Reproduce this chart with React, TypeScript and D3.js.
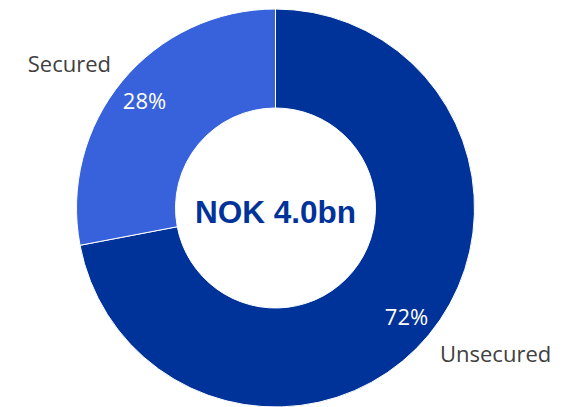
import React from "react";
import * as d3 from "d3";

const categories = ["Unsecured", "Secured"];
const values = [72, 28];
const percentLabels = ["72%", "28%"];
const centerLabel = "NOK 4.0bn";
const colors = ["#003399", "#3862DC"];

const W = 575;
const H = 407;
const cx = 275.5;
const cy = 208;
const outerR = 199;
const innerR = 100;

export default function App() {
  const pie = d3.pie<number>().sort(null).value((d) => d)(values);
  const arc = d3.arc<d3.PieArcDatum<number>>().innerRadius(innerR).outerRadius(outerR);
  const labelArc = d3.arc<d3.PieArcDatum<number>>().innerRadius(170).outerRadius(170);
  // outer category label positions (layout)
  const catPos = [
    { x: 440, y: 362, anchor: "start" },
    { x: 111, y: 72, anchor: "end" },
  ];
  return (
    <div style={{ position: "absolute", left: 0, top: 0 }}>
      <svg width={W} height={H} style={{ display: "block" }}>
        <rect width={W} height={H} fill="#ffffff" />
        <g transform={`translate(${cx},${cy})`}>
          {pie.map((p, i) => (
            <path key={categories[i]} d={arc(p) || ""} fill={colors[i]} stroke="#ffffff" strokeWidth={1} />
          ))}
          {pie.map((p, i) => {
            const [x, y] = labelArc.centroid(p);
            return (
              <text
                key={"pl" + i}
                x={x}
                y={y}
                textAnchor="middle"
                dominantBaseline="central"
                fill="#ffffff"
                fontFamily="'Open Sans', sans-serif"
                fontSize={22}
              >
                {percentLabels[i]}
              </text>
            );
          })}
          <text
            x={0}
            y={15}
            textAnchor="middle"
            fill="#003399"
            fontFamily="'Liberation Sans', Arial, sans-serif"
            fontWeight="bold"
            fontSize={31.5}
          >
            {centerLabel}
          </text>
        </g>
        {categories.map((c, i) => (
          <text
            key={c}
            x={catPos[i].x}
            y={catPos[i].y}
            textAnchor={catPos[i].anchor as any}
            fill="#404040"
            fontFamily="'Open Sans', sans-serif"
            fontSize={22}
          >
            {c}
          </text>
        ))}
      </svg>
    </div>
  );
}
